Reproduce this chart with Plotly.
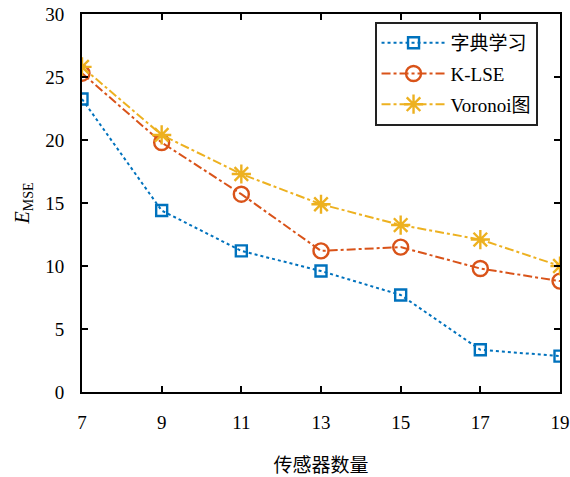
import plotly.graph_objects as go

# Number of sensors (x) and MSE for each method
sensors = [7, 9, 11, 13, 15, 17, 19]
dict_learning = [23.25, 14.4, 11.2, 9.6, 7.7, 3.35, 2.85]
k_lse = [25.3, 19.8, 15.7, 11.2, 11.5, 9.8, 8.8]
voronoi = [25.8, 20.4, 17.3, 14.9, 13.25, 12.1, 10.0]

series_names = ["字典学习", "K-LSE", "Voronoi图"]
x_ticks = [7, 9, 11, 13, 15, 17, 19]
y_ticks = [0, 5, 10, 15, 20, 25, 30]

serif = "Liberation Serif, Times New Roman, Noto Sans CJK SC, serif"

fig = go.Figure()
fig.add_trace(go.Scatter(
    x=sensors, y=dict_learning, name=series_names[0], mode="lines+markers",
    legendgroup="a",
    line=dict(color="#0072BD", width=2, dash="dot"),
    marker=dict(symbol="square-open", size=11, color="#0072BD", line=dict(width=2.4)),
))
fig.add_trace(go.Scatter(
    x=sensors, y=k_lse, name=series_names[1], mode="lines+markers",
    legendgroup="b",
    line=dict(color="#D95319", width=2, dash="dashdot"),
    marker=dict(symbol="circle-open", size=15, color="#D95319", line=dict(width=2.4)),
))
fig.add_trace(go.Scatter(
    x=sensors, y=voronoi, name=series_names[2], mode="lines+markers",
    legendgroup="c",
    line=dict(color="#EDB120", width=2, dash="dashdot"),
    marker=dict(symbol="asterisk-open", size=16, color="#EDB120", line=dict(width=2.4, color="#EDB120")),
))

axis_common = dict(
    showline=True, linecolor="black", linewidth=2, mirror="ticks",
    ticks="inside", ticklen=6, tickwidth=1.5, tickcolor="black",
    showgrid=False, zeroline=False, automargin=False,
    tickfont=dict(family=serif, size=19, color="black"),
)

fig.update_layout(
    width=570, height=477,
    margin=dict(l=82, r=10, t=14, b=85),
    paper_bgcolor="white", plot_bgcolor="white",
    showlegend=True,
    legend=dict(
        x=0.612, y=0.979, xanchor="left", yanchor="top",
        bordercolor="#222222", borderwidth=2, bgcolor="white",
        font=dict(family=serif, size=19, color="black"),
        tracegroupgap=3, itemwidth=64,
    ),
    xaxis=dict(
        range=[7, 19], tickvals=x_ticks, ticklabelstandoff=12,
        title=dict(text="传感器数量", font=dict(family="Noto Sans CJK SC", size=19, color="black"), standoff=32),
        **axis_common,
    ),
    yaxis=dict(
        range=[0, 30], tickvals=y_ticks, ticklabelstandoff=12,
        title=dict(text="<i>E</i><sub>MSE</sub>", font=dict(family=serif, size=20, color="black"), standoff=10),
        **axis_common,
    ),
)

fig.write_html("out.html")
